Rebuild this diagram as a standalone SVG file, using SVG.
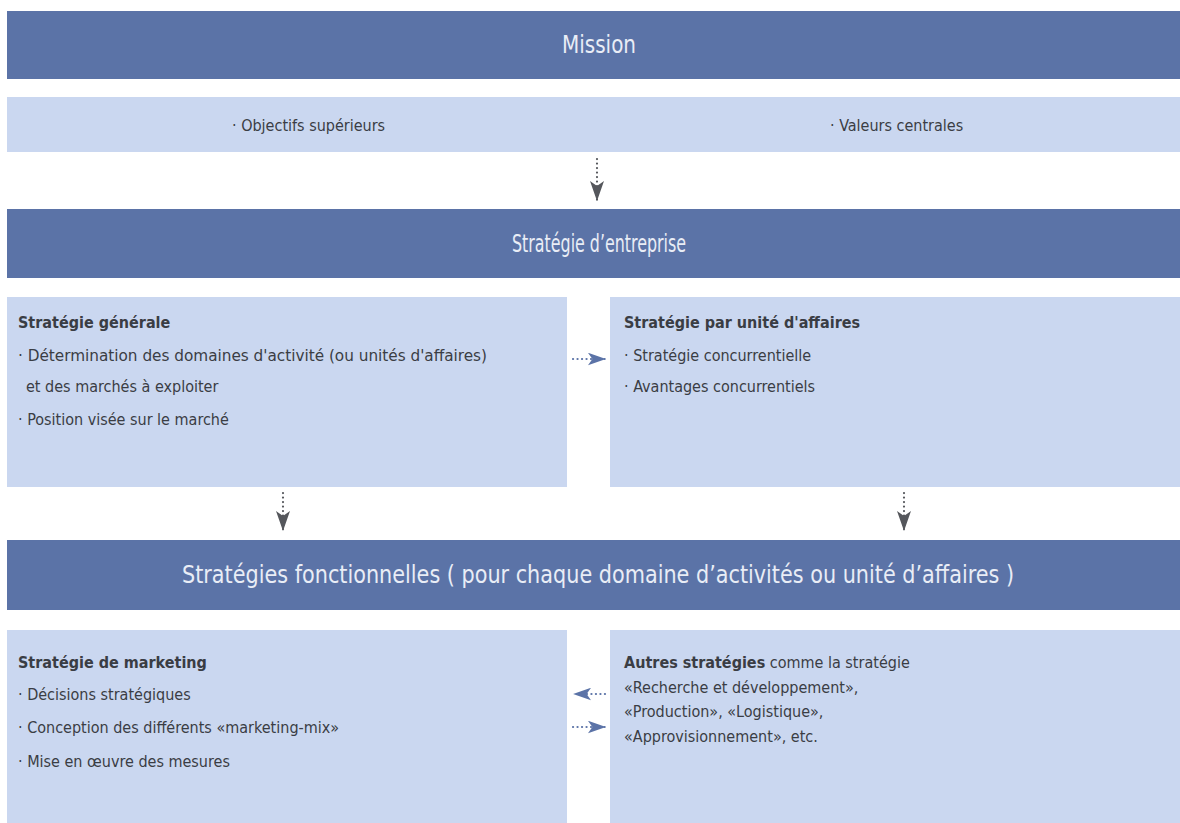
<svg xmlns="http://www.w3.org/2000/svg" width="1180" height="823" viewBox="0 0 1180 823">
  <style>
    .bar { fill: #5b73a7; }
    .box { fill: #cad7f0; }
    .bar-text { font-family: "DejaVu Sans Condensed", "Liberation Sans Narrow", "Liberation Sans", sans-serif; font-size: 24px; fill: #e9edf6; text-anchor: middle; }
    .t { font-family: "DejaVu Sans Condensed", "Liberation Sans Narrow", "Liberation Sans", sans-serif; font-size: 16px; fill: #3a3d44; }
    .b { font-weight: bold; }
    .dots { fill: none; stroke-width: 2.2; stroke-linecap: round; stroke-dasharray: 0.1 4.4; }
    .dots.grey { stroke: #55575c; }
    .dots.blue { stroke: #5b73a7; }
  </style>
  <defs>
    <!-- dart-shaped arrowheads with a notched back -->
    <marker id="head-grey" viewBox="0 0 20 14" refX="19" refY="7" markerWidth="20" markerHeight="14" markerUnits="userSpaceOnUse" orient="auto">
      <path d="M0,0 L20,7 L0,14 L5,7 Z" fill="#55575c"/>
    </marker>
    <marker id="head-blue" viewBox="0 0 20 14" refX="19" refY="7" markerWidth="18" markerHeight="13" markerUnits="userSpaceOnUse" orient="auto">
      <path d="M0,0 L20,7 L0,14 L5,7 Z" fill="#5b73a7"/>
    </marker>
  </defs>

  <rect width="1180" height="823" fill="#ffffff"/>

  <!-- Mission -->
  <g id="mission">
    <rect class="bar" x="7" y="11" width="1173" height="68"/>
    <text class="bar-text" x="599" y="53" textLength="74" lengthAdjust="spacingAndGlyphs">Mission</text>
  </g>

  <g id="mission-details">
    <rect class="box" x="7" y="97" width="1173" height="55"/>
    <text class="t" x="232" y="131">· Objectifs supérieurs</text>
    <text class="t" x="830" y="131">· Valeurs centrales</text>
  </g>

  <!-- Corporate strategy -->
  <g id="strategie-entreprise">
    <rect class="bar" x="7" y="209" width="1173" height="69"/>
    <text class="bar-text" x="599" y="252" textLength="174" lengthAdjust="spacingAndGlyphs">Stratégie d’entreprise</text>
  </g>

  <g id="strategie-generale">
    <rect class="box" x="7" y="297" width="560" height="190"/>
    <text class="t b" x="18" y="328">Stratégie générale</text>
    <text class="t" x="18" y="361" textLength="469" lengthAdjust="spacingAndGlyphs">· Détermination des domaines d'activité (ou unités d'affaires)</text>
    <text class="t" x="26" y="392">et des marchés à exploiter</text>
    <text class="t" x="18" y="425">· Position visée sur le marché</text>
  </g>

  <g id="strategie-unite">
    <rect class="box" x="610" y="297" width="570" height="190"/>
    <text class="t b" x="624" y="328">Stratégie par unité d'affaires</text>
    <text class="t" x="624" y="361">· Stratégie concurrentielle</text>
    <text class="t" x="624" y="392">· Avantages concurrentiels</text>
  </g>

  <!-- Functional strategies -->
  <g id="strategies-fonctionnelles">
    <rect class="bar" x="7" y="540" width="1173" height="70"/>
    <text class="bar-text" x="598" y="583" textLength="832" lengthAdjust="spacingAndGlyphs">Stratégies fonctionnelles ( pour chaque domaine d’activités ou unité d’affaires )</text>
  </g>

  <g id="strategie-marketing">
    <rect class="box" x="7" y="630" width="560" height="193"/>
    <text class="t b" x="18" y="668">Stratégie de marketing</text>
    <text class="t" x="18" y="700">· Décisions stratégiques</text>
    <text class="t" x="18" y="733">· Conception des différents «marketing-mix»</text>
    <text class="t" x="18" y="767">· Mise en œuvre des mesures</text>
  </g>

  <g id="autres-strategies">
    <rect class="box" x="610" y="630" width="570" height="193"/>
    <text class="t" x="624" y="668"><tspan class="b">Autres stratégies</tspan> comme la stratégie</text>
    <text class="t" x="624" y="693">«Recherche et développement»,</text>
    <text class="t" x="624" y="717">«Production»,  «Logistique»,</text>
    <text class="t" x="624" y="742">«Approvisionnement», etc.</text>
  </g>

  <!-- Connectors -->
  <g id="connectors">
    <path class="dots grey" d="M597,159 V200" marker-end="url(#head-grey)"/>
    <path class="dots grey" d="M283,493 V530" marker-end="url(#head-grey)"/>
    <path class="dots grey" d="M904,493 V530" marker-end="url(#head-grey)"/>
    <path class="dots blue" d="M573,359 H605" marker-end="url(#head-blue)"/>
    <path class="dots blue" d="M605,694 H574" marker-end="url(#head-blue)"/>
    <path class="dots blue" d="M573,727 H605" marker-end="url(#head-blue)"/>
  </g>
</svg>
